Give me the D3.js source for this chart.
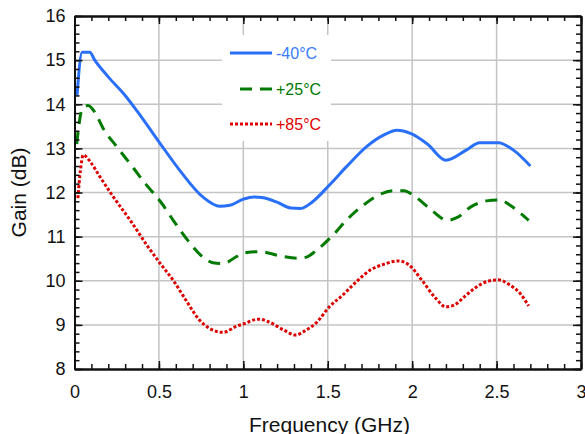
<!DOCTYPE html>
<html>
<head>
<meta charset="utf-8">
<script src="https://cdn.jsdelivr.net/npm/d3@7"></script>
<style>
  html, body { margin: 0; padding: 0; background: #fff; }
  text { font-family: "Liberation Sans", Arial, sans-serif; }
</style>
</head>
<body>
<svg id="chart" width="585" height="434"></svg>
<script>
// ---- data ----
const xTicks = [0, 0.5, 1, 1.5, 2, 2.5, 3];
const yTicks = [8, 9, 10, 11, 12, 13, 14, 15, 16];
const seriesNames = ["-40°C", "+25°C", "+85°C"];

const freqM40 = [0.015, 0.045, 0.09, 0.12, 0.2, 0.3, 0.37, 0.5, 0.62, 0.76, 0.86, 0.92, 1.0, 1.06, 1.12, 1.2, 1.28, 1.34, 1.41, 1.51, 1.61, 1.73, 1.83, 1.91, 1.99, 2.09, 2.2, 2.32, 2.4, 2.51, 2.6, 2.7];
const gainM40 = [14.2, 15.18, 15.18, 15.0, 14.62, 14.2, 13.85, 13.15, 12.52, 11.9, 11.69, 11.71, 11.85, 11.9, 11.88, 11.78, 11.65, 11.64, 11.79, 12.17, 12.58, 13.04, 13.3, 13.41, 13.34, 13.1, 12.73, 12.96, 13.13, 13.13, 12.96, 12.6];

const freqP25 = [0.013, 0.045, 0.08, 0.12, 0.17, 0.25, 0.35, 0.42, 0.51, 0.59, 0.67, 0.76, 0.82, 0.88, 0.96, 1.0, 1.1, 1.22, 1.32, 1.37, 1.43, 1.47, 1.53, 1.61, 1.71, 1.79, 1.89, 1.95, 2.02, 2.1, 2.21, 2.27, 2.35, 2.44, 2.52, 2.58, 2.69];
const gainP25 = [13.1, 13.88, 13.97, 13.82, 13.45, 13.04, 12.55, 12.2, 11.79, 11.34, 10.92, 10.54, 10.41, 10.39, 10.55, 10.63, 10.66, 10.56, 10.51, 10.53, 10.68, 10.81, 11.03, 11.37, 11.71, 11.92, 12.04, 12.04, 11.9, 11.65, 11.37, 11.44, 11.68, 11.81, 11.83, 11.71, 11.37];

const freqP85 = [0.02, 0.035, 0.052, 0.1, 0.15, 0.23, 0.33, 0.43, 0.51, 0.59, 0.66, 0.74, 0.8, 0.88, 0.96, 1.0, 1.09, 1.15, 1.24, 1.31, 1.37, 1.43, 1.51, 1.59, 1.67, 1.75, 1.83, 1.92, 1.98, 2.06, 2.14, 2.2, 2.25, 2.31, 2.37, 2.45, 2.51, 2.58, 2.64, 2.69];
const gainP85 = [11.87, 12.5, 12.85, 12.66, 12.36, 11.9, 11.37, 10.8, 10.38, 9.98, 9.56, 9.11, 8.92, 8.83, 8.97, 9.02, 9.13, 9.07, 8.88, 8.77, 8.88, 9.04, 9.41, 9.68, 9.98, 10.24, 10.37, 10.45, 10.36, 10.0, 9.6, 9.41, 9.45, 9.64, 9.83, 9.99, 10.02, 9.9, 9.71, 9.43];

// ---- layout ----
const L = 74.5, R = 581, T = 16, B = 369;
const svg = d3.select("#chart");
const x = d3.scaleLinear().domain([0, 3]).range([L, R]);
const y = d3.scaleLinear().domain([8, 16]).range([B, T]);

const series = [
  { name: seriesNames[0], f: freqM40, g: gainM40, color: "#2a6ff8", dash: null },
  { name: seriesNames[1], f: freqP25, g: gainP25, color: "#007a00", dash: "12,8" },
  { name: seriesNames[2], f: freqP85, g: gainP85, color: "#dd0000", dash: "3,2" }
];

// grid
const grid = svg.append("g");
grid.selectAll("line.vx").data(xTicks.slice(1, -1)).enter().append("line")
  .attr("x1", d => x(d)).attr("x2", d => x(d)).attr("y1", T).attr("y2", B)
  .attr("stroke", "#c4c4c4").attr("stroke-width", 1.5);
grid.selectAll("line.hy").data(yTicks.slice(1, -1)).enter().append("line")
  .attr("y1", d => y(d)).attr("y2", d => y(d)).attr("x1", L).attr("x2", R)
  .attr("stroke", "#c4c4c4").attr("stroke-width", 1.5);

// legend background (covers grid)
svg.append("rect").attr("x", 222).attr("y", 35).attr("width", 109).attr("height", 106).attr("fill", "#fff");

// lines
const line = d3.line().x(d => x(d[0])).y(d => y(d[1])).curve(d3.curveMonotoneX);
series.forEach(s => {
  const pts = s.f.map((f, i) => [f, s.g[i]]);
  svg.append("path").datum(pts).attr("d", line)
    .attr("fill", "none").attr("stroke", s.color).attr("stroke-width", 3)
    .attr("stroke-dasharray", s.dash);
});

// axes (ticks inward, all four sides)
const minorX = d3.range(0, 3.0001, 0.1).map(v => +v.toFixed(2));
const minorY = d3.range(8, 16.0001, 0.2).map(v => +v.toFixed(2));
const axB = d3.axisBottom(x).tickValues(xTicks).tickSizeInner(-8).tickSizeOuter(0).tickPadding(16).tickFormat(d3.format("~g"));
const axBm = d3.axisBottom(x).tickValues(minorX).tickSizeInner(-5).tickSizeOuter(0).tickFormat("");
const axT = d3.axisTop(x).tickValues(xTicks).tickSizeInner(-8).tickSizeOuter(0).tickFormat("");
const axTm = d3.axisTop(x).tickValues(minorX).tickSizeInner(-5).tickSizeOuter(0).tickFormat("");
const axL = d3.axisLeft(y).tickValues(yTicks).tickSizeInner(-8).tickSizeOuter(0).tickPadding(9).tickFormat(d3.format("d"));
const axLm = d3.axisLeft(y).tickValues(minorY).tickSizeInner(-5).tickSizeOuter(0).tickFormat("");
const axR = d3.axisRight(y).tickValues(yTicks).tickSizeInner(-8).tickSizeOuter(0).tickFormat("");
const axRm = d3.axisRight(y).tickValues(minorY).tickSizeInner(-5).tickSizeOuter(0).tickFormat("");

function styleAxis(g) {
  g.select(".domain").attr("stroke", "#111").attr("stroke-width", 2);
  g.selectAll(".tick line").attr("stroke", "#111").attr("stroke-width", 1.5);
  g.selectAll(".tick text").attr("fill", "#111").style("font-size", "18px")
    .style("font-family", "'Liberation Sans', Arial, sans-serif");
}
svg.append("g").attr("transform", `translate(0,${B})`).call(axBm).call(styleAxis);
svg.append("g").attr("transform", `translate(0,${B})`).call(axB).call(styleAxis);
svg.append("g").attr("transform", `translate(0,${T})`).call(axTm).call(styleAxis);
svg.append("g").attr("transform", `translate(0,${T})`).call(axT).call(styleAxis);
svg.append("g").attr("transform", `translate(${L},0)`).call(axLm).call(styleAxis);
svg.append("g").attr("transform", `translate(${L},0)`).call(axL).call(styleAxis);
svg.append("g").attr("transform", `translate(${R},0)`).call(axRm).call(styleAxis);
svg.append("g").attr("transform", `translate(${R},0)`).call(axR).call(styleAxis);

// axis titles
svg.append("text").attr("x", 329.5).attr("y", 432).attr("text-anchor", "middle")
  .style("font-size", "21px").attr("fill", "#111").text("Frequency (GHz)");
svg.append("text").attr("transform", `translate(26,${(T + B) / 2}) rotate(-90)`)
  .attr("text-anchor", "middle").style("font-size", "21px").attr("fill", "#111").text("Gain (dB)");

// legend
const legY = [53, 89, 124];
series.forEach((s, i) => {
  svg.append("line").attr("x1", s.dash === "12,8" ? 240 : 230).attr("x2", 272)
    .attr("y1", legY[i]).attr("y2", legY[i])
    .attr("stroke", s.color).attr("stroke-width", 3).attr("stroke-dasharray", s.dash);
  svg.append("text").attr("x", 276).attr("y", legY[i]).attr("dy", "0.36em")
    .style("font-size", "16px").attr("fill", i === 0 ? "#3a7cff" : s.color).text(s.name);
});
</script>
</body>
</html>
